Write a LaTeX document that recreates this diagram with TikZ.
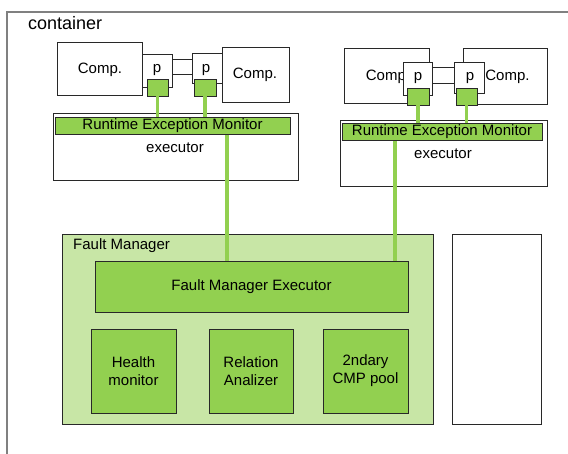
\documentclass[tikz,border=0pt]{standalone}
\usepackage{fontspec}
\setmainfont{Liberation Sans}
\definecolor{gdark}{RGB}{146,208,80}
\definecolor{glight}{RGB}{200,230,166}
\definecolor{edge}{RGB}{40,40,40}
\definecolor{frame}{RGB}{128,128,128}
\begin{document}
\begin{tikzpicture}[x=1pt,y=-1pt,
  box/.style={draw=edge, line width=0.9pt, fill=white, inner sep=0pt, outer sep=0pt},
  gbox/.style={box, fill=gdark},
  wire/.style={draw=gdark, line width=3.5pt},
  txt/.style={font=\fontsize{15}{18}\selectfont, inner sep=0pt},
  lbl/.style={txt, anchor=base}]
\useasboundingbox (0,0) rectangle (568,453);

% outer container frame (runs off the right and bottom edges)
\coordinate (cTL) at (7,12);
\draw[frame, line width=1.6pt] (cTL |- 0,460) -- (cTL) -- (cTL -| 580,0);
\node[anchor=base west, inner sep=0pt, font=\fontsize{18}{21}\selectfont] (ctitle) at (28,29) {container};

% ---- left executor: two components bound through ports ----
\node[box, minimum width=85pt, minimum height=53pt] (compL1) at (99.5,68.5) {};
\node[box, minimum width=67pt, minimum height=55pt] (compL2) at (255.5,74.5) {};
\node[lbl] (tcL1) at (100,73.5) {Comp.};
\node[lbl] (tcL2) at (255,78) {Comp.};
\node[box, minimum width=20pt, minimum height=15pt] (linkL) at (182,66.5) {};
\node[box, minimum width=30pt, minimum height=33pt] (pL1) at (157,70.5) {};
\node[box, minimum width=30pt, minimum height=30pt] (pL2) at (207,68.3) {};
\node[lbl] (tpL1) at (157,72) {p};
\node[lbl] (tpL2) at (206,72) {p};
\node[box, minimum width=245pt, minimum height=67pt] (execL) at (175.5,146.5) {};
\node[lbl] (teL) at (175,152) {executor};

% ---- right executor (ports overlap the component boxes) ----
\node[box, minimum width=85pt, minimum height=55pt] (compR1) at (386.5,75.5) {};
\node[box, minimum width=84pt, minimum height=56pt] (compR2) at (505,76) {};
\node[lbl] (tcR1) at (388,80) {Comp.};
\node[lbl] (tcR2) at (507.5,80) {Comp.};
\node[box, minimum width=22pt, minimum height=16pt] (linkR) at (443,75) {};
\node[box, minimum width=29pt, minimum height=33pt] (pR1) at (417.5,78.5) {};
\node[box, minimum width=30pt, minimum height=31pt] (pR2) at (469,77.5) {};
\node[lbl] (tpR1) at (418,80) {p};
\node[lbl] (tpR2) at (470,80) {p};
\node[box, minimum width=207pt, minimum height=66pt] (execR) at (443.5,153) {};
\node[lbl] (teR) at (443,158) {executor};

% ---- fault manager ----
\node[box, fill=glight, minimum width=371pt, minimum height=190pt] (fm) at (247.5,329) {};
\node[txt, anchor=base west] (fmtitle) at (73,249) {Fault Manager};
\node[gbox, txt, minimum width=313pt, minimum height=51pt] (fme) at (251.5,286.5) {Fault Manager Executor};
\node[gbox, txt, align=center, minimum width=85pt, minimum height=84pt] (health) at (133.5,371) {Health\\monitor};
\node[gbox, txt, align=center, minimum width=84pt, minimum height=84pt] (relation) at (251,371) {Relation\\Analizer};
\node[gbox, txt, align=center, minimum width=85pt, minimum height=84pt] (pool) at (365.5,371) {2ndary\\CMP pool};
\node[box, minimum width=89pt, minimum height=190pt] (spare) at (496.5,329) {};

% ---- port probes, monitor bars and the lines to the fault manager ----
\node[gbox, minimum width=21pt, minimum height=17pt] (gL1) at (157.5,87.5) {};
\node[gbox, minimum width=22pt, minimum height=17pt] (gL2) at (205,87.5) {};
\node[gbox, minimum width=22pt, minimum height=17pt] (gR1) at (418,96.5) {};
\node[gbox, minimum width=21pt, minimum height=17pt] (gR2) at (466.5,96.5) {};
\coordinate (tapL) at (227,134);
\coordinate (tapR) at (395,140);
\draw[wire] (gL1.south) -- (gL1.south |- 0,117);
\draw[wire] (gL2.south) -- (gL2.south |- 0,117);
\draw[wire] (gR1.south) -- (gR1.south |- 0,123);
\draw[wire] (gR2.south) -- (gR2.south |- 0,123);
\draw[wire] (tapL) -- (tapL |- fme.north);
\draw[wire] (tapR) -- (tapR |- fme.north);
\node[gbox, txt, minimum width=235pt, minimum height=17pt] (remL) at (172.5,125.5) {Runtime Exception Monitor};
\node[gbox, txt, minimum width=200pt, minimum height=17pt] (remR) at (442,131.5) {Runtime Exception Monitor};
\end{tikzpicture}
\end{document}
